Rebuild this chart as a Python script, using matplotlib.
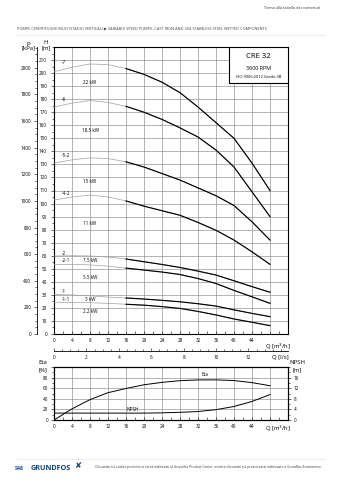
import numpy as np
import matplotlib
matplotlib.use("Agg")
import matplotlib.pyplot as plt
from matplotlib.patches import Rectangle
from matplotlib.ticker import MultipleLocator, FixedLocator

plt.rcParams['font.family'] = ['Open Sans', 'DejaVu Sans']

W, H_PX = 339, 480

# flow points [m3/h]
q = [0, 4, 8, 12, 16, 20, 24, 28, 32, 36, 40, 44, 48]

# head curves [m]
curve_names = ["-7", "-6", "-5-2", "-4-2", "-2", "-2-1", "-1", "-1-1"]
h_7 = [201, 204.5, 207, 206.5, 203.5, 199, 193, 185, 174, 162, 150, 131, 110]
h_6 = [174, 177, 179, 177.5, 174.5, 170, 164.5, 158, 151, 141, 128, 109, 90]
h_52 = [131, 133.5, 135, 134.5, 132, 128, 123, 118, 112, 106, 98.5, 86, 72]
h_42 = [102.7, 105, 106.5, 105, 102, 98, 94.5, 91, 85.5, 79.5, 72, 63, 53.4]
h_2 = [59.8, 60, 59.8, 59, 57.5, 55.4, 53.3, 51, 48.2, 45.2, 40.8, 36.3, 32]
h_21 = [53.4, 53.3, 53, 52, 50.5, 49, 47.5, 45.6, 42.5, 38.7, 33.4, 28.5, 23.5]
h_1 = [30.3, 29.9, 29.3, 28.3, 27.6, 26.8, 25.8, 24.7, 23.2, 21.4, 18.5, 15.8, 13.3]
h_11 = [24.3, 24.2, 24, 23.5, 22.8, 22.1, 21, 19.6, 17.3, 14.6, 11.5, 9, 6.4]
heads = [h_7, h_6, h_52, h_42, h_2, h_21, h_1, h_11]
name_h = [208, 180, 137, 108, 62, 56, 32.4, 26.8]

# motor power labels
power_labels = ["22 kW", "18.5 kW", "15 kW", "11 kW", "7.5 kW", "5.5 kW", "3 kW", "2.2 kW"]
power_h = [193, 156, 117, 85, 56, 43, 26.8, 17.6]

# efficiency [%] and NPSH [m]
eta = [0, 21, 38.5, 51.5, 59.5, 66.5, 71, 74.2, 75.6, 75.7, 74.4, 70.5, 64.7]
npsh = [2.6, 2.6, 2.6, 2.6, 2.6, 2.6, 2.7, 2.9, 3.2, 3.9, 5.1, 7.0, 9.6]

q_ticks = list(range(0, 48, 4))
ls_ticks = list(range(0, 14, 2))
kpa_ticks = list(range(0, 2001, 200))
eta_ticks = [0, 20, 40, 60, 80]
npsh_ticks = [0, 4, 8, 12, 16]

FS = 3.3
GRID = '#8a8a8a'


def rect(x0, y0, x1, y1):
    return [x0 / W, 1 - y1 / H_PX, (x1 - x0) / W, (y1 - y0) / H_PX]


def ftext(x, y, s, **kw):
    fig.text(x / W, 1 - y / H_PX, s, **kw)


fig = plt.figure(figsize=(W / 100, H_PX / 100), dpi=100)

# ---- head chart ----
ax = fig.add_axes(rect(54, 47, 288, 334))
ax.set_xlim(0, 52)
ax.set_ylim(0, 220)
ax.xaxis.set_major_locator(FixedLocator(q_ticks + [48]))
ax.set_xticklabels([str(v) for v in q_ticks] + [""])
ax.xaxis.set_minor_locator(MultipleLocator(2))
ax.yaxis.set_major_locator(FixedLocator(list(range(0, 220, 10))))
ax.set_yticklabels([str(v) for v in range(0, 220, 10)])
ax.yaxis.set_minor_locator(MultipleLocator(5))
ax.tick_params(axis='x', which='both', direction='in', length=2, width=0.4, labelsize=FS, pad=3)
ax.tick_params(axis='y', which='both', direction='out', length=2, width=0.4, labelsize=FS, pad=3)
ax.tick_params(axis='y', which='minor', length=1.2)
ax.grid(True, which='major', color=GRID, lw=0.45)
for s in ax.spines.values():
    s.set_linewidth(0.8)

for hv in heads:
    ax.plot(q, hv, color='#a0a0a0', lw=0.5, zorder=3)
    qb = [v for v in q if v >= 16]
    hb = [h for v, h in zip(q, hv) if v >= 16]
    ax.plot(qb, hb, color='black', lw=0.85, zorder=4)

for name, hy in zip(curve_names, name_h):
    ax.text(1.8, hy, name, fontsize=FS, va='center', ha='left')
for lab, hy in zip(power_labels, power_h):
    ax.text(8, hy, lab, fontsize=FS, va='center', ha='center')

ax.add_patch(Rectangle((0.749, 0.874), 0.251, 0.126, transform=ax.transAxes,
                       facecolor='white', edgecolor='black', lw=0.8, zorder=5))
ax.text(0.875, 0.967, "CRE 32", transform=ax.transAxes, ha='center', va='center', fontsize=5.6, zorder=6)
ax.text(0.875, 0.924, "3600 RPM", transform=ax.transAxes, ha='center', va='center', fontsize=3.9, zorder=6)
ax.text(0.875, 0.897, "ISO 9906:2012 Grado 3B", transform=ax.transAxes, ha='center', va='center', fontsize=2.9, zorder=6)

ax.text(49.8, -9.5, "Q [m$^3$/h]", fontsize=4.3, ha='center', va='center')

# pressure scale
kpa = ax.secondary_yaxis(-0.073, functions=(lambda h: h * 9.8, lambda p: p / 9.8))
kpa.yaxis.set_major_locator(FixedLocator(kpa_ticks))
kpa.yaxis.set_minor_locator(MultipleLocator(50))
kpa.tick_params(which='both', direction='out', length=2, width=0.4, labelsize=FS, pad=2)
kpa.tick_params(which='minor', length=1.2)
kpa.spines['left'].set_linewidth(0.6)

ftext(28, 43, "p", fontsize=4.3, ha='center', va='center')
ftext(28, 48, "[kPa]", fontsize=4.3, ha='center', va='center')
ftext(46, 42, "H", fontsize=4.3, ha='center', va='center')
ftext(46, 47.5, "[m]", fontsize=4.3, ha='center', va='center')

# ---- l/s scale ----
axl = fig.add_axes(rect(54, 340, 288, 351))
axl.set_xlim(0, 52 / 3.6)
axl.set_ylim(0, 1)
for k in ['top', 'left', 'right']:
    axl.spines[k].set_visible(False)
axl.spines['bottom'].set_linewidth(0.6)
axl.set_yticks([])
axl.xaxis.set_major_locator(FixedLocator(ls_ticks))
axl.xaxis.set_minor_locator(MultipleLocator(0.5))
axl.tick_params(axis='x', which='both', direction='in', length=2, width=0.4, labelsize=FS, pad=3)
axl.tick_params(axis='x', which='minor', length=1.2)
axl.patch.set_alpha(0)
ftext(280, 358, "Q [l/s]", fontsize=4.3, ha='center', va='center')

# ---- efficiency / NPSH chart ----
ax2 = fig.add_axes(rect(54, 367, 288, 420))
ax2.set_xlim(0, 52)
ax2.set_ylim(0, 100)
ax2.xaxis.set_major_locator(FixedLocator(q_ticks + [48]))
ax2.set_xticklabels([str(v) for v in q_ticks] + [""])
ax2.xaxis.set_minor_locator(MultipleLocator(2))
ax2.yaxis.set_major_locator(FixedLocator(eta_ticks + [100]))
ax2.set_yticklabels([str(v) for v in eta_ticks] + [""])
ax2.yaxis.set_minor_locator(MultipleLocator(10))
ax2.tick_params(axis='x', which='both', direction='in', length=2, width=0.4, labelsize=FS, pad=3)
ax2.tick_params(axis='y', which='both', direction='out', length=2, width=0.4, labelsize=FS, pad=2)
ax2.tick_params(axis='y', which='minor', length=1.2)
ax2.grid(True, which='major', color=GRID, lw=0.45)
for s in ax2.spines.values():
    s.set_linewidth(0.8)
ax2.plot(q, eta, color='black', lw=0.7)
ax2.text(33.5, 86, "Eta", fontsize=FS, ha='center', va='center')
ax2.text(17.5, 20, "NPSH", fontsize=FS, ha='center', va='center')
ax2.text(49.8, -17, "Q [m$^3$/h]", fontsize=4.3, ha='center', va='center')

ax3 = ax2.twinx()
ax3.set_ylim(0, 20)
ax3.yaxis.set_major_locator(FixedLocator(npsh_ticks))
ax3.yaxis.set_minor_locator(MultipleLocator(2))
ax3.tick_params(axis='y', which='both', direction='out', length=2, width=0.4, labelsize=FS, pad=2)
ax3.tick_params(axis='y', which='minor', length=1.2)
ax3.plot(q, npsh, color='black', lw=0.7)

ftext(43, 363, "Eta", fontsize=4.3, ha='center', va='center')
ftext(43, 370, "[%]", fontsize=4.3, ha='center', va='center')
ftext(297, 363, "NPSH", fontsize=4.3, ha='center', va='center')
ftext(297, 370, "[m]", fontsize=4.3, ha='center', va='center')

# ---- page header / footer ----
ftext(320, 8, "Torna alla tabella dei contenuti", fontsize=2.8, ha='right', va='center', color='#333333')
ftext(17, 28, "POMPE CENTRIFUGHE MULTISTADIO VERTICALI \u25b6 VARIABLE SPEED PUMPS- CAST IRON AND 304 STAINLESS STEEL WETTED COMPONENTS",
      fontsize=2.75, ha='left', va='center', color='#444444')
fig.add_artist(plt.Line2D([15 / W, 325 / W], [1 - 35 / H_PX] * 2, color='#dddddd', lw=0.4))
fig.add_artist(plt.Line2D([15 / W, 325 / W], [1 - 459 / H_PX] * 2, color='#dddddd', lw=0.4))
ftext(15, 468, "S48", fontsize=3.8, ha='left', va='center', color='#1b4f8a', fontweight='bold')
ftext(31, 468, "GRUNDFOS", fontsize=5.2, ha='left', va='center', color='#13417a', fontweight='bold')
ftext(78, 467, "\u2718", fontsize=6, ha='center', va='center', color='#13417a')
ftext(95, 467, "Cliccando sul codice prodotto si verrà indirizzati al Grundfos Product Center, mentre cliccando sul prezzo sarai indirizzato a Grundfos Ecommerce.",
      fontsize=2.4, ha='left', va='center', color='#333333')

fig.savefig("out.png", dpi=100)
